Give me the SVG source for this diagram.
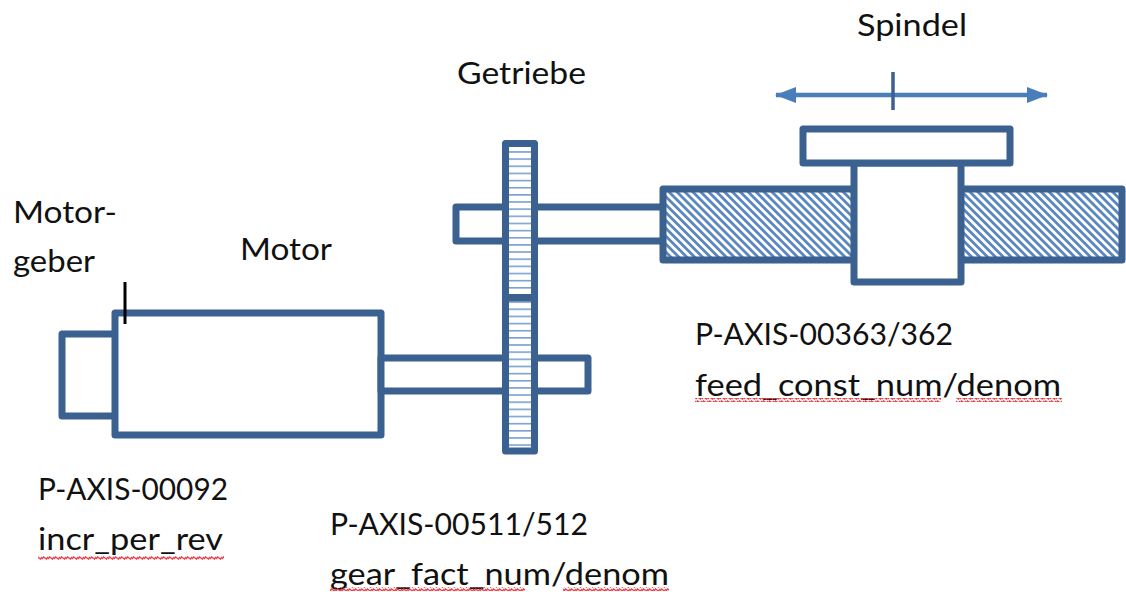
<svg xmlns="http://www.w3.org/2000/svg" width="1126" height="592" viewBox="0 0 1126 592">
<style>
.s{fill:#fff;stroke:#3a6190;stroke-width:7;stroke-linejoin:round}
.h{fill:url(#hs);stroke:#3a6190;stroke-width:7;stroke-linejoin:round}
.d{fill:url(#dg);stroke:#3a6190;stroke-width:7;stroke-linejoin:round}
.t{font-family:"Lato","Liberation Sans",sans-serif;font-size:31px;fill:#111}
.w{fill:url(#wave)}
</style>
<defs>
<pattern id="hs" width="8" height="7.15" patternUnits="userSpaceOnUse" y="1"><rect width="8" height="7.15" fill="#fff"/><rect width="8" height="1.6" y="0" fill="#7ba0d0"/></pattern>
<pattern id="dg" width="5.6" height="5.6" patternUnits="userSpaceOnUse" patternTransform="rotate(-45)"><rect width="5.6" height="5.6" fill="#fff"/><rect width="2.8" height="5.6" fill="#5a87be"/></pattern>
<pattern id="wave" width="6" height="4" patternUnits="userSpaceOnUse"><path d="M0 3L1.500 1L4.500 3L6 1" fill="none" stroke="#e8434a" stroke-width="1.500"/></pattern>
<marker id="a" markerUnits="userSpaceOnUse" markerWidth="22" markerHeight="18" refX="20" refY="9" orient="auto-start-reverse"><path d="M0 1L21 9L0 17Z" fill="#4a7ebb"/></marker>
</defs>
<g id="connectors">
<path d="M776 95H1047" fill="none" stroke="#4a7ebb" stroke-width="4.500" marker-start="url(#a)" marker-end="url(#a)"/>
<path d="M893 72V110" fill="none" stroke="#3a6190" stroke-width="3.500"/>
</g>
<g id="encoder"><rect class="s" x="62" y="334" width="54" height="82"/></g>
<g id="motor"><rect class="s" x="115" y="313" width="266" height="122"/><path d="M125 282V324" stroke="#000" stroke-width="3" fill="none"/></g>
<g id="shaft-lower"><rect class="s" x="381" y="358" width="207" height="33"/></g>
<g id="shaft-upper"><rect class="s" x="456" y="207" width="208" height="34"/></g>
<g id="gear-upper"><rect class="h" x="505.500" y="143.500" width="29" height="154"/></g>
<g id="gear-lower"><rect class="h" x="505.500" y="298" width="29" height="153"/></g>
<g id="screw"><rect class="d" x="663" y="189" width="459" height="71"/></g>
<g id="nut"><rect class="s" x="854" y="163" width="107" height="119"/></g>
<g id="plate"><rect class="s" x="803" y="129" width="207" height="34"/></g>
<g id="labels">
<text class="t" x="857" y="36" textLength="110" lengthAdjust="spacingAndGlyphs">Spindel</text>
<text class="t" x="457" y="84" textLength="129" lengthAdjust="spacingAndGlyphs">Getriebe</text>
<text class="t" x="13" y="223" textLength="104" lengthAdjust="spacingAndGlyphs">Motor-</text>
<text class="t" x="13" y="272" textLength="82" lengthAdjust="spacingAndGlyphs">geber</text>
<text class="t" x="240" y="260" textLength="92" lengthAdjust="spacingAndGlyphs">Motor</text>
<text class="t" x="695" y="345" textLength="258" lengthAdjust="spacingAndGlyphs">P-AXIS-00363/362</text>
<text class="t" x="695" y="396" textLength="366" lengthAdjust="spacingAndGlyphs">feed_const_num/denom</text>
<text class="t" x="38" y="500" textLength="190" lengthAdjust="spacingAndGlyphs">P-AXIS-00092</text>
<text class="t" x="38" y="550" textLength="185" lengthAdjust="spacingAndGlyphs">incr_per_rev</text>
<text class="t" x="330" y="535" textLength="258" lengthAdjust="spacingAndGlyphs">P-AXIS-00511/512</text>
<text class="t" x="330" y="585" textLength="339" lengthAdjust="spacingAndGlyphs">gear_fact_num/denom</text>
</g>
<g id="squiggles">
<rect class="w" x="695" y="398" width="246" height="4"/>
<rect class="w" x="956" y="398" width="106" height="4"/>
<rect class="w" x="38" y="556" width="186" height="4"/>
<rect class="w" x="330" y="587" width="195" height="4"/>
<rect class="w" x="563" y="587" width="106" height="4"/>
</g>
</svg>
